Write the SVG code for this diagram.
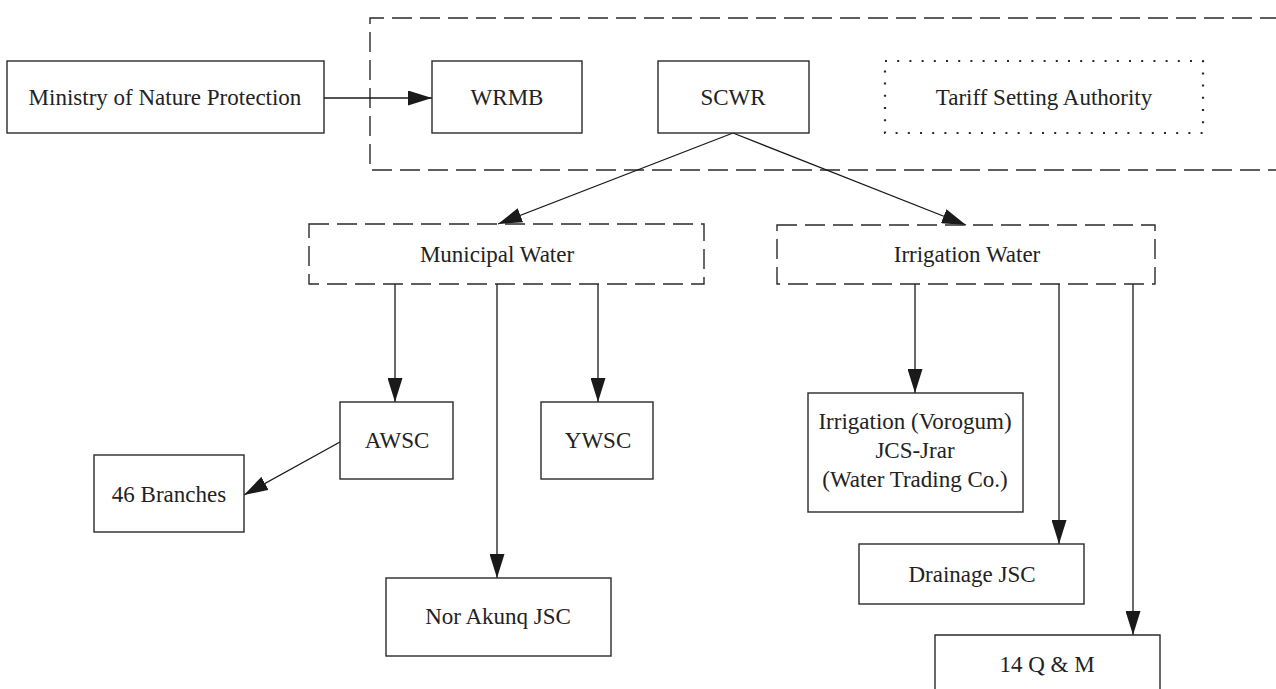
<svg xmlns="http://www.w3.org/2000/svg" width="1276" height="689" viewBox="0 0 1276 689">
<defs>
<marker id="ah" markerUnits="userSpaceOnUse" markerWidth="24" markerHeight="15" refX="24" refY="7.5" orient="auto">
<path d="M0,0 L24,7.5 L0,15 z" fill="#1a1a1a"/>
</marker>
<style>
.box{fill:#fff;stroke:#2a2a2a;stroke-width:1.4}
.dash{fill:none;stroke:#2a2a2a;stroke-width:1.4;stroke-dasharray:20 8}
.dot{fill:none;stroke:#2a2a2a;stroke-width:2.2;stroke-dasharray:2 10.2}
.lbl{font-family:"Liberation Serif","Times New Roman",serif;font-size:23px;fill:#222;text-anchor:middle;dominant-baseline:central}
.con{fill:none;stroke:#1a1a1a;stroke-width:1.3}
.arr{marker-end:url(#ah)}
</style>
</defs>
<rect width="1276" height="689" fill="#fff"/>
<g id="groups">
<path id="top-group" class="dash" d="M1280,18 H370 V170 H1280"/>
</g>
<g id="connectors">
<line class="con arr" x1="324" y1="98" x2="432" y2="98"/>
<line class="con arr" x1="733" y1="133" x2="498" y2="224"/>
<line class="con arr" x1="733" y1="133" x2="966" y2="225"/>
<line class="con arr" x1="395" y1="284" x2="395" y2="402"/>
<line class="con arr" x1="497" y1="284" x2="497" y2="578"/>
<line class="con arr" x1="598" y1="284" x2="598" y2="402"/>
<line class="con arr" x1="340" y1="442" x2="244" y2="495"/>
<line class="con arr" x1="915" y1="284" x2="915" y2="393"/>
<line class="con arr" x1="1059" y1="284" x2="1059" y2="544"/>
<line class="con arr" x1="1133" y1="284" x2="1133" y2="635"/>
</g>
<g id="ministry"><rect class="box" x="7" y="61" width="317" height="72"/><text class="lbl" x="165" y="97">Ministry of Nature Protection</text></g>
<g id="wrmb"><rect class="box" x="432" y="61" width="150" height="72"/><text class="lbl" x="507" y="97">WRMB</text></g>
<g id="scwr"><rect class="box" x="658" y="61" width="151" height="72"/><text class="lbl" x="733" y="97">SCWR</text></g>
<g id="tariff"><rect class="dot" x="885" y="61" width="318" height="72"/><text class="lbl" x="1044" y="97">Tariff Setting Authority</text></g>
<g id="municipal"><rect class="dash" x="309" y="224" width="395" height="60"/><text class="lbl" x="497" y="254">Municipal Water</text></g>
<g id="irrigation-water"><rect class="dash" x="777" y="225" width="378" height="59"/><text class="lbl" x="967" y="254">Irrigation Water</text></g>
<g id="awsc"><rect class="box" x="340" y="402" width="113" height="77"/><text class="lbl" x="397" y="440">AWSC</text></g>
<g id="ywsc"><rect class="box" x="541" y="402" width="112" height="77"/><text class="lbl" x="598" y="440">YWSC</text></g>
<g id="branches"><rect class="box" x="94" y="455" width="150" height="77"/><text class="lbl" x="169" y="494">46 Branches</text></g>
<g id="norakunq"><rect class="box" x="386" y="578" width="225" height="78"/><text class="lbl" x="498" y="616">Nor Akunq JSC</text></g>
<g id="vorogum"><rect class="box" x="808" y="393" width="215" height="119"/><text class="lbl" x="915" y="421">Irrigation (Vorogum)</text><text class="lbl" x="915" y="450">JCS-Jrar</text><text class="lbl" x="915" y="479">(Water Trading Co.)</text></g>
<g id="drainage"><rect class="box" x="859" y="544" width="225" height="60"/><text class="lbl" x="972" y="574">Drainage JSC</text></g>
<g id="qm"><path class="box" d="M935,700 V635 H1160 V700"/><text class="lbl" x="1047" y="664">14 Q &amp; M</text></g>
</svg>
